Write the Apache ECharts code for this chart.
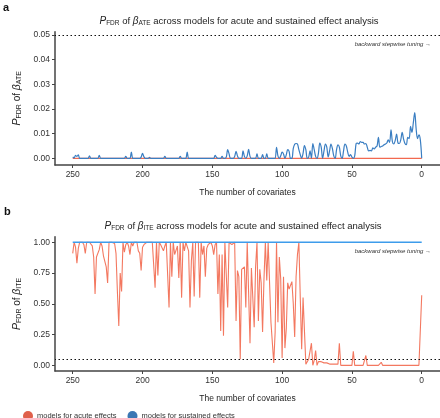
<!DOCTYPE html>
<html>
<head>
<meta charset="utf-8">
<script src="https://cdn.jsdelivr.net/npm/echarts@6/dist/echarts.min.js"></script>
<style>html,body{margin:0;padding:0;background:#fff;}#c{width:440px;height:418px;}</style>
</head>
<body>
<div id="c"></div>
<script>
// Number of covariates: 250 down to 0 (x domain)
const covariates = [];
for (let n = 250; n >= 0; n--) covariates.push(n);

// Panel a: P_FDR of beta_ATE (ordered n = 250 ... 0)
const ateAcute = [
  0,0,0,0,0,0,0,0,0,0, 0,0,0,0,0,0,0,0,0,0, 0,0,0,0,0,0,0,0,0,0,
  0,0,0,0,0,0,0,0,0,0, 0,0,0,0,0,0,0,0,0,0, 0,0,0,0,0,0,0,0,0,0,
  0,0,0,0,0,0,0,0,0,0, 0,0,0,0,0,0,0,0,0,0, 0,0,0,0,0,0,0,0,0,0,
  0,0,0,0,0,0,0,0,0,0, 0,0,0,0,0,0,0,0,0,0, 0,0,0,0,0,0,0,0,0,0,
  0,0,0,0,0,0,0,0,0,0, 0,0,0,0,0,0,0,0,0,0, 0,0,0,0,0,0,0,0,0,0,
  0,0,0,0,0,0,0,0,0,0, 0,0,0,0,0,0,0,0,0,0, 0,0,0,0,0,0,0,0,0,0,
  0,0,0,0,0,0,0,0,0,0, 0,0,0,0,0,0,0,0,0,0, 0,0,0,0,0,0,0,0,0,0,
  0,0,0,0,0,0,0,0,0,0, 0,0,0,0,0,0,0,0,0,0, 0,0,0,0,0,0,0,0,0,0,
  0,0,0,0,0,0,0,0,0,0,
  0
];
const ateSustained = [
  0.0005,0.0002,0.0012,0.0008,0.0014,0,0,0,0,0,          // 250-241
  0,0,0.001,0,0,0,0,0,0,0.0012,                          // 240-231
  0,0,0,0,0,0,0,0,0,0,                                   // 230-221
  0,0,0,0,0,0,0,0,0.0008,0,                              // 220-211
  0,0,0.0025,0,0,0,0,0,0,0.0005,                         // 210-201
  0.002,0.0006,0,0,0,0.0004,0,0,0,0,                     // 200-191
  0,0,0,0,0,0,0.0008,0,0,0,                              // 190-181
  0,0,0,0,0,0,0,0.0008,0,0,                              // 180-171
  0,0,0.0025,0,0,0,0,0,0,0,                              // 170-161
  0,0,0,0,0,0,0,0,0,0,                                   // 160-151
  0,0,0.0012,0.0004,0,0,0,0.0008,0,0,                    // 150-141
  0.0005,0.0035,0.0018,0,0,0,0.0008,0.0028,0.001,0,      // 140-131
  0,0,0.003,0.0008,0,0.001,0.0036,0.0008,0,0,            // 130-121
  0,0,0.0018,0,0,0,0.0015,0,0,0.0018,                    // 120-111
  0,0,0,0,0,0,0.0045,0.001,0,0.001,                      // 110-101
  0.0025,0.0018,0,0.0015,0.0035,0.0028,0,0,0.004,0.0057, // 100-91
  0.006,0.0058,0.0035,0.0015,0,0.002,0.0052,0.0035,0,0.0005, // 90-81
  0.003,0,0.006,0.0035,0.0008,0,0.002,0.0062,0.0045,0,   // 80-71
  0.003,0.0058,0.0045,0.0006,0.003,0.0058,0.004,0.001,0,0.0035, // 70-61
  0.0055,0.0045,0.001,0,0.003,0.0058,0.005,0.0025,0.0008,0.0015, // 60-51
  0.0005,0,0.001,0.006,0.0062,0.0058,0.0068,0.0065,0.0065,0.0058, // 50-41
  0.006,0.0045,0.003,0.0032,0.003,0.0042,0.0038,0.0045,0.005,0.0085, // 40-31
  0.0045,0.0048,0.005,0.0055,0.0058,0.0062,0.0075,0.0065,0.0115,0.0068, // 30-21
  0.0058,0.0072,0.0098,0.0062,0.006,0.0075,0.0105,0.0078,0.006,0.0055, // 20-11
  0.0085,0.008,0.013,0.0105,0.0145,0.0185,0.012,0.008,0.0095,0.0075,  // 10-1
  0                                                                   // 0
];

// Panel b: P_FDR of beta_ITE (ordered n = 250 ... 0)
const iteAcute = [
  0.91,1.0,0.96,0.83,0.95,1.0,1.0,1.0,0.98,0.91,   // 250-241
  1.0,1.0,1.0,1.0,0.97,0.88,0.58,0.88,0.89,0.94,   // 240-231
  1.0,0.97,0.89,0.89,0.80,0.67,1.0,1.0,1.0,1.0,    // 230-221
  0.99,0.91,0.60,0.32,0.75,0.60,1.0,0.92,0.98,1.0, // 220-211
  0.97,0.90,1.0,0.97,1.0,1.0,1.0,0.93,0.91,0.77,   // 210-201
  0.96,0.98,0.97,1.0,1.0,1.0,1.0,1.0,1.0,0.63,     // 200-191
  1.0,0.73,1.0,0.98,0.99,0.93,0.97,1.0,1.0,0.47,   // 190-181
  1.0,0.72,1.0,0.90,0.91,0.97,0.71,1.0,0.55,1.0,   // 180-171
  0.93,1.0,1.0,0.93,0.47,0.85,1.0,0.56,1.0,1.0,    // 170-161
  1.0,0.55,1.0,0.90,0.97,0.72,0.95,0.98,0.97,1.0,  // 160-151
  0.97,0.90,0.98,1.0,0.58,0.90,0.28,0.90,0.24,1.0, // 150-141
  1.0,0.47,1.0,1.0,0.98,0.97,1.0,0.36,0.77,0.72,   // 140-131
  0.05,0.78,0.79,0.80,0.47,1.0,1.0,0.18,0.79,0.80, // 130-121
  0.31,0.80,1.0,0.36,0.78,0.67,0.27,0.70,1.0,0.69, // 120-111
  1.0,1.0,0.35,0.34,0.02,0.27,1.0,0.35,0.88,0.70,  // 110-101
  0.06,0.72,0.14,0.30,0.67,0.62,0.61,0.68,0.50,0.23, // 100-91
  0.72,0.90,1.0,0.55,0.13,0.55,0.28,0.01,0.02,0.05,  // 90-81
  0.06,0.18,0.0,0.04,0.12,0.0,0.03,0.02,0.03,0.03,   // 80-71
  0.02,0.01,0.02,0.01,0.01,0.0,0.01,0.01,0.01,0.0,   // 70-61
  0.01,0.18,0.0,0.0,0.0,0.0,0.0,0.0,0.0,0.0,         // 60-51
  0.0,0.115,0.0,0.0,0.0,0.0,0.0,0.0,0.0,0.0,         // 50-41
  0.08,0.0,0.0,0.0,0.0,0.0,0.0,0.0,0.0,0.0,          // 40-31
  0.0,0.025,0.0,0.0,0.0,0.0,0.0,0.0,0.0,0.0,         // 30-21
  0.0,0.0,0.0,0.0,0.0,0.0,0.0,0.0,0.0,0.0,           // 20-11
  0.0,0.0,0.0,0.0,0.0,0.0,0.0,0.0,0.0,0.0,           // 10-1
  0.57                                               // 0
];
const iteSustained = [
  1,1,1,1,1,1,1,1,1,1, 1,1,1,1,1,1,1,1,1,1, 1,1,1,1,1,1,1,1,1,1,
  1,1,1,1,1,1,1,1,1,1, 1,1,1,1,1,1,1,1,1,1, 1,1,1,1,1,1,1,1,1,1,
  1,1,1,1,1,1,1,1,1,1, 1,1,1,1,1,1,1,1,1,1, 1,1,1,1,1,1,1,1,1,1,
  1,1,1,1,1,1,1,1,1,1, 1,1,1,1,1,1,1,1,1,1, 1,1,1,1,1,1,1,1,1,1,
  1,1,1,1,1,1,1,1,1,1, 1,1,1,1,1,1,1,1,1,1, 1,1,1,1,1,1,1,1,1,1,
  1,1,1,1,1,1,1,1,1,1, 1,1,1,1,1,1,1,1,1,1, 1,1,1,1,1,1,1,1,1,1,
  1,1,1,1,1,1,1,1,1,1, 1,1,1,1,1,1,1,1,1,1, 1,1,1,1,1,1,1,1,1,1,
  1,1,1,1,1,1,1,1,1,1, 1,1,1,1,1,1,1,1,1,1, 1,1,1,1,1,1,1,1,1,1,
  1,1,1,1,1,1,1,1,1,1,
  1
];

const xTicks = [0, 50, 100, 150, 200, 250];
const yTicksA = [0, 0.01, 0.02, 0.03, 0.04, 0.05];
const yTicksB = [0, 0.25, 0.5, 0.75, 1.0];
const threshold = 0.05;
const seriesNames = ['models for acute effects', 'models for sustained effects'];

const FONT = '"Liberation Sans", Arial, sans-serif';
const RED = '#F2694F';
const RED_LEGEND = '#E0604B';
const BLUE_A = '#3A7EC2';
const BLUE_B = '#3D9CEB';
const BLUE_LEGEND = '#3B77B3';

const pairs = (arr) => arr.map((v, i) => [covariates[i], v]);

const titleRich = {
  p: {fontStyle: 'italic', fontWeight: 'normal', fontSize: 10, fontFamily: FONT, color: '#222'},
  sub: {fontWeight: 'normal', fontSize: 6.5, fontFamily: FONT, color: '#222', padding: [4, 0, 0, 0]},
  t: {fontWeight: 'normal', fontSize: 9.5, fontFamily: FONT, color: '#222'},
  b: {fontStyle: 'italic', fontWeight: 'normal', fontSize: 10, fontFamily: FONT, color: '#222'}
};
const nameRich = {
  p: {fontStyle: 'italic', fontSize: 10.5, fontFamily: FONT, color: '#222'},
  sub: {fontSize: 7, fontFamily: FONT, color: '#222', padding: [4, 0, 0, 0]},
  t: {fontSize: 10, fontFamily: FONT, color: '#222'},
  b: {fontStyle: 'italic', fontSize: 10.5, fontFamily: FONT, color: '#222'}
};

function xAxisCfg(gi) {
  return {
    gridIndex: gi, type: 'value', inverse: true, min: -13.1, max: 262.7, position: 'bottom',
    axisLine: {show: true, onZero: false, lineStyle: {color: '#444', width: 1.5}},
    axisTick: {show: true, length: 3, lineStyle: {color: '#444', width: 1}, customValues: xTicks},
    axisLabel: {customValues: xTicks, fontSize: 8.5, color: '#333', fontFamily: FONT, margin: 5},
    splitLine: {show: false},
    name: 'The number of covariates', nameLocation: 'middle', nameGap: 23,
    nameTextStyle: {fontSize: 8.5, color: '#222', fontFamily: FONT}
  };
}
function yAxisCfg(gi, min, max, ticks, sub) {
  return {
    gridIndex: gi, type: 'value', min: min, max: max, position: 'left',
    axisLine: {show: true, onZero: false, lineStyle: {color: '#444', width: 1.5}},
    axisTick: {show: true, length: 3, lineStyle: {color: '#444', width: 1}, customValues: ticks},
    axisLabel: {customValues: ticks, fontSize: 8.5, color: '#333', fontFamily: FONT, margin: 5,
      formatter: (v) => v.toFixed(2)},
    splitLine: {show: false},
    name: '{p|P}{sub|FDR}{t| of }{b|β}{sub|' + sub + '}',
    nameLocation: 'middle', nameGap: 30,
    nameTextStyle: {rich: nameRich}
  };
}

const thresholdLine = {
  silent: true, symbol: 'none', animation: false,
  lineStyle: {type: [1.5, 2.5], color: '#111', width: 1},
  label: {show: false},
  data: [{yAxis: threshold}]
};

const chart = echarts.init(document.getElementById('c'), null, {renderer: 'canvas'});
chart.setOption({
  animation: false,
  backgroundColor: '#fff',
  textStyle: {fontFamily: FONT},
  title: [
    {text: '{p|P}{sub|FDR}{t| of }{b|β}{sub|ATE}{t| across models for acute and sustained effect analysis}',
      left: 234, top: 11, textAlign: 'center', textStyle: {fontWeight: 'normal', rich: titleRich}},
    {text: '{p|P}{sub|FDR}{t| of }{b|β}{sub|ITE}{t| across models for acute and sustained effect analysis}',
      left: 238, top: 216, textAlign: 'center', textStyle: {fontWeight: 'normal', rich: titleRich}}
  ],
  grid: [
    {left: 55, right: 0, top: 31.7, height: 133.3},
    {left: 55, right: 0, top: 236.7, height: 134.3}
  ],
  xAxis: [xAxisCfg(0), xAxisCfg(1)],
  yAxis: [
    yAxisCfg(0, -0.0027, 0.0513, yTicksA, 'ATE'),
    yAxisCfg(1, -0.046, 1.045, yTicksB, 'ITE')
  ],
  legend: {
    left: 18, top: 406, itemWidth: 10, itemHeight: 10, itemGap: 11,
    icon: 'circle',
    textStyle: {fontSize: 7.5, color: '#333', fontFamily: FONT, padding: [0, 0, 0, -1]},
    data: [
      {name: seriesNames[0], itemStyle: {color: RED_LEGEND}},
      {name: seriesNames[1], itemStyle: {color: BLUE_LEGEND}}
    ]
  },
  graphic: [
    {type: 'text', left: 3, top: 2, style: {text: 'a', font: 'bold 11px ' + FONT, fill: '#111'}},
    {type: 'text', left: 4, top: 206, style: {text: 'b', font: 'bold 11px ' + FONT, fill: '#111'}},
    {type: 'text', right: 9, top: 41, style: {text: 'backward stepwise tuning →', font: 'italic 6px ' + FONT, fill: '#333'}},
    {type: 'text', right: 9, top: 248, style: {text: 'backward stepwise tuning →', font: 'italic 6px ' + FONT, fill: '#333'}}
  ],
  series: [
    {name: seriesNames[0], type: 'line', xAxisIndex: 0, yAxisIndex: 0, data: pairs(ateAcute),
      showSymbol: false, symbol: 'none', lineStyle: {color: RED, width: 1.2}, itemStyle: {color: RED},
      markLine: thresholdLine, z: 2},
    {name: seriesNames[1], type: 'line', xAxisIndex: 0, yAxisIndex: 0, data: pairs(ateSustained),
      showSymbol: false, symbol: 'none', smooth: 0.35, lineStyle: {color: BLUE_A, width: 1.2}, itemStyle: {color: BLUE_A}, z: 3},
    {name: seriesNames[0], type: 'line', xAxisIndex: 1, yAxisIndex: 1, data: pairs(iteAcute),
      showSymbol: false, symbol: 'none', lineStyle: {color: RED, width: 1.1, opacity: 0.9}, itemStyle: {color: RED},
      markLine: thresholdLine, z: 2},
    {name: seriesNames[1], type: 'line', xAxisIndex: 1, yAxisIndex: 1, data: pairs(iteSustained),
      showSymbol: false, symbol: 'none', lineStyle: {color: BLUE_B, width: 1.3}, itemStyle: {color: BLUE_B}, z: 3}
  ]
});
</script>
</body>
</html>
